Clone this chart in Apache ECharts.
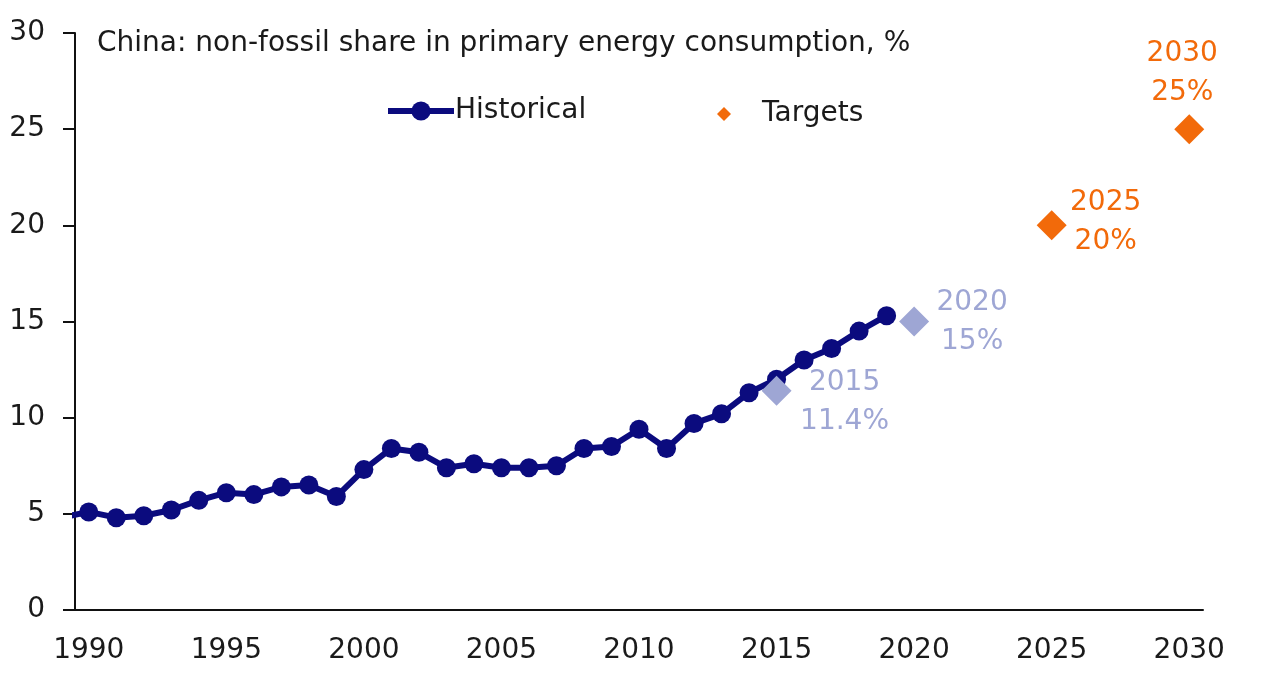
<!DOCTYPE html>
<html>
<head>
<meta charset="utf-8">
<script src="https://cdn.jsdelivr.net/npm/echarts@6/dist/echarts.min.js"></script>
<style>
html, body { margin: 0; padding: 0; background: #fff; }
#chart { width: 1280px; height: 684px; }
</style>
</head>
<body>
<div id="chart"></div>
<script>
// historical share, %, 1989-2019 (1989 only shows as the clipped line start)
const years = [1989, 1990, 1991, 1992, 1993, 1994, 1995, 1996, 1997, 1998, 1999,
  2000, 2001, 2002, 2003, 2004, 2005, 2006, 2007, 2008, 2009,
  2010, 2011, 2012, 2013, 2014, 2015, 2016, 2017, 2018, 2019];
const historical = [4.8, 5.1, 4.8, 4.9, 5.2, 5.7, 6.1, 6.0, 6.4, 6.5, 5.9,
  7.3, 8.4, 8.2, 7.4, 7.6, 7.4, 7.4, 7.5, 8.4, 8.5,
  9.4, 8.4, 9.7, 10.2, 11.3, 12.0, 13.0, 13.6, 14.5, 15.3];

const targetYears = [2015, 2020, 2025, 2030];
const targetValues = [11.4, 15, 20, 25];
const targetLabels = ['2015\n11.4%', '2020\n15%', '2025\n20%', '2030\n25%'];

const xTicks = [1990, 1995, 2000, 2005, 2010, 2015, 2020, 2025, 2030];

const NAVY = '#0b0b7e';
const ORANGE = '#f26a0a';
const LILAC = '#9ea6d4';
const FONT = 'DejaVu Sans, sans-serif';
const TXT = '#1a1a1a';
const FS = 28;

const chart = echarts.init(document.getElementById('chart'));

const targetStyle = [
  { color: LILAC, offset: [68, 11] },
  { color: LILAC, offset: [58, 1] },
  { color: ORANGE, offset: [54, -3] },
  { color: ORANGE, offset: [-7, -56] }
];

chart.setOption({
  backgroundColor: '#fff',
  animation: false,
  textStyle: { fontFamily: FONT },
  title: {
    text: 'China: non-fossil share in primary energy consumption, %',
    left: 92, top: 25,
    textStyle: { fontSize: FS, fontWeight: 'normal', color: TXT, fontFamily: FONT }
  },
  legend: [{
    data: ['Historical'],
    left: 380, top: 92,
    itemWidth: 66, itemHeight: 24,
    lineStyle: { width: 6 },
    textStyle: { fontSize: FS, color: TXT, fontFamily: FONT, padding: [0, 0, 0, -4] }
  }, {
    data: ['Targets'],
    left: 712, top: 95,
    itemWidth: 14, itemHeight: 14,
    textStyle: { fontSize: FS, color: TXT, fontFamily: FONT, padding: [0, 0, 0, 26] }
  }],
  grid: { left: 75, right: 77, top: 33, bottom: 74 },
  xAxis: {
    type: 'value',
    min: 1989.5, max: 2030.5,
    splitLine: { show: false },
    axisLine: { lineStyle: { color: '#111', width: 2 } },
    axisTick: { show: false },
    axisLabel: {
      customValues: xTicks,
      formatter: v => String(v),
      fontSize: FS, color: TXT, fontFamily: FONT, margin: 27
    }
  },
  yAxis: {
    type: 'value',
    min: 0, max: 30, interval: 5,
    splitLine: { show: false },
    axisLine: { show: true, lineStyle: { color: '#111', width: 2 } },
    axisTick: { show: true, length: 12, lineStyle: { color: '#111', width: 2 } },
    axisLabel: { fontSize: FS, color: TXT, fontFamily: FONT, margin: 30 }
  },
  series: [{
    name: 'Historical',
    type: 'line',
    z: 2,
    data: years.map((y, i) => [y, historical[i]]),
    symbol: 'circle',
    symbolSize: 19,
    clip: true,
    lineStyle: { color: NAVY, width: 6 },
    itemStyle: { color: NAVY }
  }, {
    name: 'Targets',
    type: 'scatter',
    z: 5,
    symbol: 'diamond',
    symbolSize: 30,
    itemStyle: { color: ORANGE, opacity: 1 },
    data: targetYears.map((y, i) => ({
      value: [y, targetValues[i]],
      itemStyle: { color: targetStyle[i].color, opacity: 1 },
      label: {
        show: true,
        formatter: targetLabels[i],
        position: 'inside',
        align: 'center',
        verticalAlign: 'middle',
        offset: targetStyle[i].offset,
        color: targetStyle[i].color,
        fontFamily: FONT,
        fontSize: FS,
        lineHeight: 39
      }
    }))
  }]
});
</script>
</body>
</html>
